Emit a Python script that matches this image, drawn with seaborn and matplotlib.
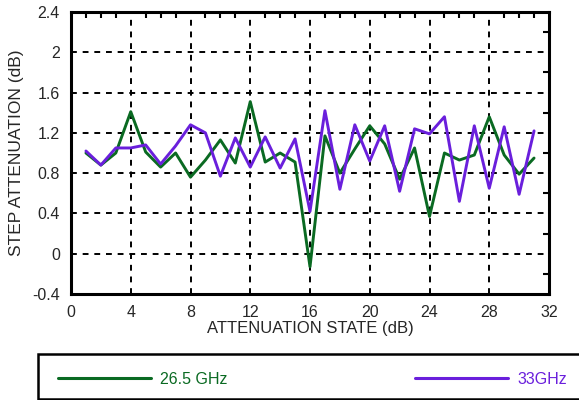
import numpy as np
import pandas as pd
import matplotlib
matplotlib.use('Agg')
import matplotlib.pyplot as plt
import seaborn as sns
from matplotlib.ticker import MultipleLocator
from matplotlib.patches import Rectangle

# Step attenuation per state
states = list(range(1, 32))
att_265 = [1.00, 0.88, 1.00, 1.41, 1.01, 0.86, 1.00, 0.76, 0.93, 1.13, 0.90, 1.51,
           0.91, 1.00, 0.91, -0.13, 1.17, 0.80, 1.04, 1.27, 1.09, 0.74, 1.05, 0.37,
           1.00, 0.93, 0.98, 1.36, 0.98, 0.79, 0.95]
att_33 = [1.02, 0.88, 1.05, 1.05, 1.08, 0.89, 1.07, 1.28, 1.20, 0.77, 1.15, 0.86,
          1.16, 0.85, 1.14, 0.42, 1.42, 0.64, 1.28, 0.92, 1.27, 0.62, 1.24, 1.19,
          1.36, 0.52, 1.27, 0.65, 1.26, 0.59, 1.22]
series_labels = ['26.5 GHz', '33GHz']
series_colors = ['#0a6a22', '#6a1fdc']
x_ticks = [0, 4, 8, 12, 16, 20, 24, 28, 32]
y_ticks = [-0.4, 0, 0.4, 0.8, 1.2, 1.6, 2.0, 2.4]
y_ticklabels = ['-0.4', '0', '0.4', '0.8', '1.2', '1.6', '2', '2.4']

df = pd.DataFrame({
    'state': states * 2,
    'att': att_265 + att_33,
    'freq': [series_labels[0]] * len(states) + [series_labels[1]] * len(states),
})

sns.set_style('white')
plt.rcParams['font.family'] = ['Liberation Sans', 'DejaVu Sans']

W, H = 579, 400
fig = plt.figure(figsize=(5.79, 4.0), dpi=100)
ax = fig.add_axes([71 / W, 1 - 294 / H, (549 - 71) / W, (294 - 12) / H])

sns.lineplot(data=df, x='state', y='att', hue='freq', hue_order=series_labels,
             palette=series_colors, linewidth=2.1, ax=ax, legend=False, zorder=3)

ax.set_xlim(0, 32)
ax.set_ylim(-0.4, 2.4)
ax.set_xticks(x_ticks)
ax.set_xticklabels([str(t) for t in x_ticks])
ax.set_yticks(y_ticks)
ax.set_yticklabels(y_ticklabels)
ax.xaxis.set_minor_locator(MultipleLocator(1))
ax.yaxis.set_minor_locator(MultipleLocator(0.2))
ax.tick_params(which='both', direction='in', top=True, right=True, color='black',
               labelsize=11.5, width=1.5)
ax.tick_params(which='major', length=0, pad=8)
ax.tick_params(which='minor', length=4)
ax.grid(True, which='major', color='black', linestyle=(0, (3, 3)), linewidth=1.4, zorder=1)
for s in ax.spines.values():
    s.set_color('black')
    s.set_linewidth(2.2)

ax.set_xlabel('ATTENUATION STATE (dB)', fontsize=12, labelpad=1)
ax.set_ylabel('STEP ATTENUATION (dB)', fontsize=12.5, labelpad=6)

# legend box below the plot, running off the right edge
box = Rectangle((38 / W, 1 - 399 / H), 560 / W, 45 / H, transform=fig.transFigure,
                facecolor='white', edgecolor='black', linewidth=1.8, clip_on=False)
fig.patches.append(box)

handles = [plt.Line2D([], [], color=c, linewidth=2.2) for c in series_colors]
leg = fig.legend(handles, series_labels, loc='center left', ncol=2,
                 bbox_to_anchor=(58 / W, 1 - 379 / H), borderaxespad=0, borderpad=0,
                 fontsize=11.5, handlelength=5.8, handletextpad=0.59,
                 columnspacing=11.75, labelcolor='linecolor', frameon=False)

fig.savefig('out.png', dpi=100)
